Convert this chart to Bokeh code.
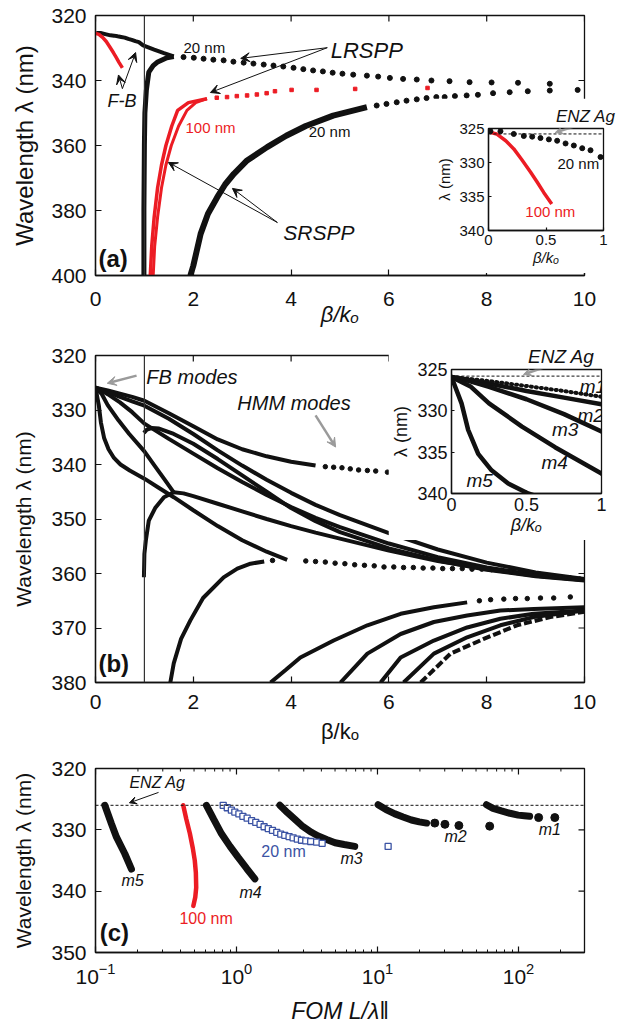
import math
from bokeh.plotting import figure
from bokeh.models import Range1d, FixedTicker, Span, Label, Arrow, VeeHead
from bokeh.layouts import column
from bokeh.embed import file_html
from bokeh.resources import INLINE

FONT = "Liberation Sans"
INK = "#111111"
RED = "#ec1c24"
BLUE = "#3b53a4"
GRAY = "#9a9a9a"

# ---------------- panel (a) data ----------------
a_xticks = [0, 2, 4, 6, 8, 10]
a_yticks = [320, 340, 360, 380, 400]
ai_xticks = [0, 0.5, 1]
ai_yticks = [325, 330, 335, 340]

fb20_x = [0.017, 0.104, 0.22, 0.307, 0.38, 0.452, 0.525, 0.597, 0.67, 0.742, 0.815, 0.887, 0.974, 1.2, 1.4, 1.6]
fb20_l = [325.4, 325.4, 325.8, 326.1, 326.2, 326.4, 326.6, 326.8, 327.2, 327.5, 327.9, 328.2, 329.2, 330.5, 331.6, 332.6]
redfb_x = [0.0, 0.07, 0.15, 0.22, 0.29, 0.365, 0.42, 0.48, 0.55]
redfb_l = [325.5, 325.8, 326.8, 328.0, 329.6, 331.4, 332.8, 334.4, 336.1]
ll20_x = [0.99, 0.99, 1.0, 1.01, 1.04, 1.09, 1.18, 1.26, 1.46, 1.6]
ll20_l = [400, 380, 360, 350, 343, 337.4, 335.4, 334.4, 333.0, 332.6]
lr20_x = [1.80, 2.01, 2.21, 2.41, 2.62, 2.82, 3.03, 3.23, 3.44, 3.64, 3.84, 4.05, 4.25, 4.45, 4.65,
          4.85, 5.05, 5.27, 5.55, 5.78, 6.02, 6.29, 6.57, 6.87, 7.24, 7.65, 8.1, 8.64, 9.29]
lr20_l = [332.8, 333.0, 333.3, 333.6, 333.8, 334.2, 334.5, 334.8, 335.1, 335.4, 335.7, 336.1, 336.5, 336.9, 337.2,
          337.6, 337.9, 338.2, 338.5, 338.8, 339.2, 339.5, 339.7, 340.0, 340.2, 340.5, 340.6, 340.7, 341.0]
sr20_x = [1.94, 2.0, 2.15, 2.3, 2.49, 2.65, 2.83, 3.1, 3.51, 3.9, 4.3, 4.86, 5.55]
sr20_l = [400, 397, 387.2, 381, 375.9, 372, 368.7, 364.6, 360.5, 357, 354, 350.8, 348.2]
sr20d_x = [5.75, 5.95, 6.16, 6.36, 6.57, 6.77, 6.97, 7.14, 7.35, 7.59, 7.82, 8.13, 8.47, 8.84, 9.29, 9.86]
sr20d_l = [347.7, 347.2, 346.7, 346.2, 345.8, 345.4, 345.1, 345.1, 344.8, 344.6, 344.4, 343.9, 343.6, 343.3, 343.1, 342.9]
red1_x = [1.12, 1.15, 1.2, 1.27, 1.35, 1.44, 1.56, 1.68, 1.9, 2.28]
red1_l = [400, 391, 382, 373, 366, 360, 354, 349.2, 346.8, 345.6]
red2_x = [1.18, 1.21, 1.27, 1.35, 1.44, 1.55, 1.7, 1.87, 2.05, 2.28]
red2_l = [400, 391, 382, 373, 366, 360, 354, 349.2, 346.8, 345.6]
redd_x = [2.48, 2.69, 2.89, 3.1, 3.3, 3.5, 3.67, 4.01, 4.52, 5.31, 6.79]
redd_l = [345.3, 345.1, 344.8, 344.6, 344.3, 343.9, 343.3, 342.9, 342.9, 342.6, 342.3]

# ---------------- panel (b) data ----------------
b_xticks = [0, 2, 4, 6, 8, 10]
b_yticks = [320, 330, 340, 350, 360, 370, 380]
bi_xticks = [0, 0.5, 1]
bi_yticks = [325, 330, 335, 340]

m1_x = [0, 0.25, 0.5, 0.75, 1.0, 1.5, 2, 2.5, 3, 3.5, 4, 4.5]
m1_l = [325.9, 326.4, 327.0, 327.6, 328.3, 330.6, 333.0, 335.4, 337.2, 338.5, 339.5, 340.2]
m1d_x = [4.7, 4.87, 5.04, 5.21, 5.38, 5.56, 5.73, 5.97]
m1d_l = [340.4, 340.5, 340.6, 340.8, 341.0, 341.1, 341.2, 341.4]
m2_x = [0, 0.25, 0.5, 0.75, 1, 1.5, 2, 2.5, 3, 3.5, 4, 4.5, 5, 6, 7, 8, 9, 10]
m2_l = [325.9, 326.7, 327.6, 328.4, 329.2, 331.6, 334.4, 337.4, 340.2, 342.8, 345.2, 347.4, 349.3, 352.6, 355.6, 358.0, 359.8, 361.0]
m3_x = [0, 0.12, 0.25, 0.5, 0.75, 1, 1.5, 2, 2.5, 3, 3.5, 4, 4.5, 5, 6, 7, 8, 9, 10]
m3_l = [325.9, 326.4, 327.1, 328.6, 330.4, 332.5, 335.3, 338.0, 340.7, 343.2, 345.6, 347.8, 349.8, 351.5, 354.5, 357.0, 358.9, 360.3, 361.2]
m4_x = [0, 0.13, 0.25, 0.47, 0.69, 1.0, 1.2, 1.4, 1.6]
m4_l = [325.9, 327.1, 329.1, 331.9, 334.4, 337.6, 340.1, 342.6, 345.1]
m5_x = [0, 0.067, 0.111, 0.178, 0.267, 0.378, 0.511, 0.7, 1.0, 1.3, 1.6, 2.0, 2.5, 3.0, 3.5, 3.92]
m5_l = [325.9, 329.1, 332.3, 335.2, 337.2, 338.8, 340.0, 341.1, 342.6, 344.3, 346.0, 348.4, 351.3, 353.9, 356.0, 357.5]
hook_x = [0.99, 1.05, 1.15, 1.3, 1.6, 2.0, 2.5, 3.0, 3.5, 4.0, 4.5, 5, 6, 7, 8, 9, 10]
hook_l = [334.2, 333.6, 333.3, 333.4, 334.4, 336.2, 339.0, 342.0, 345.0, 348.0, 350.4, 352.4, 355.4, 357.6, 359.3, 360.5, 361.3]
junc_x = [1.6, 1.8, 2.0, 2.5, 3.0, 3.5, 4.0, 4.5, 5, 6, 7, 8, 9, 10]
junc_l = [345.1, 345.3, 345.8, 347.2, 348.6, 350.0, 351.3, 352.5, 353.6, 355.8, 357.7, 359.2, 360.4, 361.2]
rise1_x = [0.99, 1.0, 1.03, 1.09, 1.22, 1.4, 1.6]
rise1_l = [360.7, 356.4, 353.9, 350.3, 348, 346, 345.1]
rise2_x = [1.53, 1.6, 1.75, 1.94, 2.2, 2.62, 2.9, 3.17, 3.45]
rise2_l = [380, 376.5, 372, 368.6, 364.5, 360.7, 359.1, 358.2, 357.8]
row_x = [3.62, 4.3, 4.5, 4.7, 4.9, 5.1, 5.3, 5.5, 5.7, 5.9, 6.1, 6.3, 6.5, 6.7, 6.9, 7.1, 7.3, 7.5, 7.7,
         7.9, 8.1, 8.3, 8.5, 8.7, 8.9, 9.1, 9.3, 9.5, 9.7, 9.9]
row_l = [357.6, 357.7, 357.8, 357.9, 358.1, 358.2, 358.4, 358.5, 358.6, 358.8, 358.8, 358.9, 358.9, 359.0, 359.0,
         359.1, 359.1, 359.1, 359.2, 359.2, 359.3, 359.4, 359.6, 359.8, 360.0, 360.2, 360.4, 360.6, 360.8, 361.0]
j_x = [3.58, 3.9, 4.19, 4.87, 5.56, 6.24, 6.92, 7.6]
j_l = [380, 377.6, 375.4, 372.3, 369.5, 367.4, 366.2, 365.3]
jd_x = [7.85, 8.08, 8.35, 8.59, 8.83, 9.1, 9.37, 9.71]
jd_l = [365.0, 364.8, 364.7, 364.6, 364.6, 364.5, 364.5, 364.3]
k_x = [5.01, 5.56, 6.24, 6.92, 7.6, 8.28, 8.96, 10]
k_l = [380, 374.7, 371.1, 368.9, 367.7, 366.8, 366.5, 366.2]
l_x = [5.83, 6.24, 6.92, 7.6, 8.28, 8.96, 10]
l_l = [380, 375.4, 372.3, 369.9, 368.3, 367.4, 366.8]
mm_x = [6.3, 6.92, 7.6, 8.28, 8.96, 10]
mm_l = [380, 374.7, 371.7, 369.5, 368, 366.8]
n_x = [6.65, 7.26, 7.94, 8.62, 9.3, 10]
n_l = [380, 374.7, 372, 369.5, 368, 367]

# ---------------- panel (c) data ----------------
c_xmajor = [0.1, 1, 10, 100]
c_yticks = [320, 330, 340, 350]
c5_x = [0.1164, 0.1297, 0.1409, 0.1614, 0.1799]
c5_l = [326.0, 329.0, 331.2, 333.9, 336.4]
cr_x = [0.419, 0.44, 0.467, 0.49, 0.506, 0.515, 0.518, 0.51, 0.494]
cr_l = [326.0, 328.2, 330.6, 333.0, 335.0, 337.0, 339.4, 341.0, 342.4]
c4_x = [0.612, 0.69, 0.783, 0.9, 1.028, 1.18, 1.35]
c4_l = [326.0, 328.3, 330.65, 332.7, 334.5, 336.3, 338.0]
c3_x = [2.03, 2.3, 2.6, 2.9, 3.4, 3.8, 4.4, 5.0, 5.8, 6.9]
c3_l = [326.0, 327.2, 328.3, 329.3, 330.4, 331.0, 331.6, 332.1, 332.4, 332.7]
c2_x = [10.1, 11.5, 13.3, 15.2, 17.4, 19.8, 22.3]
c2_l = [325.9, 326.7, 327.4, 327.9, 328.4, 328.7, 328.9]
c2d_x = [25.5, 30.1, 37.8]
c2d_l = [328.9, 329.1, 329.3]
c1_x = [59.3, 66, 75.7, 87, 99.5, 110, 120]
c1_l = [325.9, 326.5, 326.9, 327.3, 327.6, 327.7, 327.8]
c1d_x = [139, 181, 62.5]
c1d_l = [328.0, 328.0, 329.4]
cb_x = [0.805, 0.86, 0.92, 0.973, 1.04, 1.11, 1.19, 1.28, 1.37, 1.47, 1.57, 1.68, 1.8, 1.93, 2.06,
        2.2, 2.36, 2.52, 2.7, 2.89, 3.1, 3.36, 3.7, 4.05, 11.9]
cb_l = [326.0, 326.4, 326.8, 327.1, 327.4, 327.8, 328.1, 328.5, 328.8, 329.1, 329.5, 329.8, 330.1, 330.4, 330.7,
        330.9, 331.1, 331.3, 331.5, 331.7, 331.8, 331.9, 332.0, 332.2, 332.7]
ENZ = 325.8


def style(ax, fs="21px", standoff=8, tick=6):
    ax.major_label_text_font = FONT
    ax.major_label_text_font_size = fs
    ax.major_label_text_color = INK
    ax.major_label_standoff = standoff
    ax.axis_line_color = INK
    ax.axis_line_width = 1.3
    ax.major_tick_line_color = INK
    ax.major_tick_line_width = 1.2
    ax.major_tick_in = tick
    ax.major_tick_out = 0
    ax.minor_tick_line_color = None
    ax.axis_label_text_font = FONT
    ax.axis_label_text_color = INK


def make_fig(xr, yr, fw, fh, l, r, t, b, **kw):
    p = figure(x_range=xr, y_range=yr, frame_width=fw, frame_height=fh,
               min_border_left=l, min_border_right=r, min_border_top=t, min_border_bottom=b,
               toolbar_location=None, output_backend="svg", **kw)
    p.grid.visible = False
    p.outline_line_color = INK
    p.outline_line_width = 1.3
    p.background_fill_color = "white"
    p.border_fill_color = "white"
    return p


def top_title(p, text, size, offset, standoff):
    p.title.text = text
    p.title.text_font = FONT
    p.title.text_font_size = size
    p.title.text_font_style = "italic"
    p.title.text_color = INK
    p.title.align = "right"
    p.title.offset = offset
    p.title.standoff = standoff


def box_ticks(p, xticks, yticks, ytop, xright, size=12):
    # inward tick marks on the top and right edges (half of each dash is clipped by the frame)
    p.scatter(x=xticks, y=[ytop] * len(xticks), marker="dash", angle=math.pi / 2, size=size,
              line_color=INK, line_width=1.2)
    p.scatter(x=[xright] * len(yticks), y=yticks, marker="dash", size=size, line_color=INK, line_width=1.2)


def lab(p, x, y, text, size, color=INK, fstyle="normal"):
    p.add_layout(Label(x=x, y=y, text=text, text_font=FONT, text_font_size=size, text_color=color,
                       text_font_style=fstyle, text_align="left", text_baseline="middle"))


def arrow(p, x0, y0, x1, y1, color=INK, width=1.0, head=9):
    p.add_layout(Arrow(end=VeeHead(size=head, fill_color=color, line_color=color, line_width=1),
                       x_start=x0, y_start=y0, x_end=x1, y_end=y1, line_color=color, line_width=width))


# ================= panel (a) =================
pa = make_fig(Range1d(0, 10), Range1d(400, 320), 489, 260, 95, 34, 15, 63)
pa.xaxis.ticker = FixedTicker(ticks=a_xticks)
pa.yaxis.ticker = FixedTicker(ticks=a_yticks)
style(pa.xaxis[0], standoff=16)
style(pa.yaxis[0], standoff=9)
pa.xaxis.axis_label = "β/kₒ"
pa.xaxis.axis_label_text_font_style = "italic"
pa.xaxis.axis_label_text_font_size = "22px"
pa.xaxis.axis_label_standoff = -7
pa.yaxis.axis_label = "Wavelength λ (nm)"
pa.yaxis.axis_label_text_font_style = "normal"
pa.yaxis.axis_label_text_font_size = "24px"
pa.yaxis.axis_label_standoff = 10
box_ticks(pa, a_xticks, a_yticks, 320, 10)
pa.add_layout(Span(location=1, dimension="height", line_color="#333333", line_width=1.2))

pa.line(fb20_x, fb20_l, line_width=4, color=INK)
pa.line(redfb_x, redfb_l, line_width=3.5, color=RED)
pa.line(ll20_x, ll20_l, line_width=5, color=INK)
pa.scatter(lr20_x, lr20_l, size=5, color=INK)
pa.line(red1_x, red1_l, line_width=3.5, color=RED)
pa.line(red2_x, red2_l, line_width=3, color=RED)
pa.scatter(redd_x, redd_l, marker="square", size=3.5, color=RED)
pa.line(sr20_x, sr20_l, line_width=6, color=INK)
pa.scatter(sr20d_x, sr20d_l, size=5, color=INK)

lab(pa, 1.80, 329.85, "20 nm", "15px")
lab(pa, 4.81, 330.8, "LRSPP", "22px", fstyle="italic")
lab(pa, 0.245, 346.2, "F-B", "18px", fstyle="italic")
lab(pa, 1.84, 354.5, "100 nm", "15px", color=RED)
lab(pa, 4.36, 355.7, "20 nm", "15px")
lab(pa, 3.84, 386.8, "SRSPP", "21px", fstyle="italic")
lab(pa, 0.06, 394.8, "(a)", "24px", fstyle="bold")
arrow(pa, 4.74, 329.9, 2.97, 333.2)
arrow(pa, 4.74, 329.9, 2.35, 343.7)
arrow(pa, 0.55, 342.5, 0.82, 331.4)
arrow(pa, 0.55, 342.5, 0.47, 338.3)
arrow(pa, 3.72, 383.7, 1.49, 365.2)
arrow(pa, 3.72, 383.7, 2.80, 373.2)

# inset (a)
ia = make_fig(Range1d(0, 1), Range1d(340, 325), 115, 102, 58, 13, 30, 43,
              styles={"position": "absolute", "left": "430px", "top": "98px"})
ia.xaxis.ticker = FixedTicker(ticks=ai_xticks)
ia.yaxis.ticker = FixedTicker(ticks=ai_yticks)
style(ia.xaxis[0], fs="15px", standoff=4, tick=3)
style(ia.yaxis[0], fs="15px", standoff=4, tick=3)
ia.xaxis.axis_label = "β/kₒ"
ia.xaxis.axis_label_text_font_style = "italic"
ia.xaxis.axis_label_text_font_size = "15px"
ia.xaxis.axis_label_standoff = 1
ia.yaxis.axis_label = "λ (nm)"
ia.yaxis.axis_label_text_font_style = "normal"
ia.yaxis.axis_label_text_font_size = "15px"
ia.yaxis.axis_label_standoff = 3
top_title(ia, "ENZ Ag", "17px", -12, 5)
ia.add_layout(Span(location=ENZ, dimension="width", line_color=INK, line_width=1, line_dash="3 2"))
ia.line(redfb_x, redfb_l, line_width=3.5, color=RED)
ia.scatter(fb20_x, fb20_l, size=5, color=INK)
arrow(ia, 0.80, 324.4, 0.58, 325.6, color=GRAY, width=2.5, head=8)
lab(ia, 0.6, 330.1, "20 nm", "15px")
lab(ia, 0.32, 337.2, "100 nm", "15px", color=RED)

# ================= panel (b) =================
pb = make_fig(Range1d(0, 10), Range1d(380, 320), 489, 327, 95, 34, 17, 68)
pb.xaxis.ticker = FixedTicker(ticks=b_xticks)
pb.yaxis.ticker = FixedTicker(ticks=b_yticks)
style(pb.xaxis[0], standoff=12)
style(pb.yaxis[0], standoff=9)
pb.xaxis.axis_label = "β/kₒ"
pb.xaxis.axis_label_text_font_style = "normal"
pb.xaxis.axis_label_text_font_size = "22px"
pb.xaxis.axis_label_standoff = 7
pb.yaxis.axis_label = "Wavelength λ (nm)"
pb.yaxis.axis_label_text_font_style = "normal"
pb.yaxis.axis_label_text_font_size = "21px"
pb.yaxis.axis_label_standoff = 13
box_ticks(pb, b_xticks, b_yticks, 320, 10)
pb.add_layout(Span(location=1, dimension="height", line_color="#333333", line_width=1.2))

for xs, ls in [(m1_x, m1_l), (m2_x, m2_l), (m3_x, m3_l), (m4_x, m4_l), (m5_x, m5_l),
               (hook_x, hook_l), (junc_x, junc_l), (rise1_x, rise1_l), (rise2_x, rise2_l),
               (j_x, j_l), (k_x, k_l), (l_x, l_l), (mm_x, mm_l)]:
    pb.line(xs, ls, line_width=4, color=INK)
pb.line(n_x, n_l, line_width=4, color=INK, line_dash="8 3")
pb.scatter(m1d_x, m1d_l, size=4.5, color=INK)
pb.scatter(row_x, row_l, size=4.5, color=INK)
pb.scatter(jd_x, jd_l, size=4.5, color=INK)

lab(pb, 1.04, 323.9, "FB modes", "20px", fstyle="italic")
arrow(pb, 0.84, 323.7, 0.24, 325.1, color=GRAY, width=2.5, head=9)
lab(pb, 2.9, 328.8, "HMM modes", "20px", fstyle="italic")
arrow(pb, 4.5, 331.0, 4.91, 336.8, color=GRAY, width=2.5, head=9)
lab(pb, 0.06, 376.5, "(b)", "24px", fstyle="bold")

# inset (b)
ib = make_fig(Range1d(0, 1), Range1d(340, 325), 150, 124, 62, 16, 29, 47,
              styles={"position": "absolute", "left": "388px", "top": "340px"})
ib.xaxis.ticker = FixedTicker(ticks=bi_xticks)
ib.yaxis.ticker = FixedTicker(ticks=bi_yticks)
style(ib.xaxis[0], fs="18px", standoff=4, tick=3)
style(ib.yaxis[0], fs="18px", standoff=4, tick=3)
ib.xaxis.axis_label = "β/kₒ"
ib.xaxis.axis_label_text_font_style = "italic"
ib.xaxis.axis_label_text_font_size = "18px"
ib.xaxis.axis_label_standoff = 1
ib.yaxis.axis_label = "λ (nm)"
ib.yaxis.axis_label_text_font_style = "normal"
ib.yaxis.axis_label_text_font_size = "18px"
ib.yaxis.axis_label_standoff = 3
top_title(ib, "ENZ Ag", "19px", 7, 5)
ib.add_layout(Span(location=ENZ, dimension="width", line_color=INK, line_width=1, line_dash="3 2"))
for xs, ls in [(m2_x, m2_l), (m3_x, m3_l), (m4_x, m4_l), (m5_x, m5_l)]:
    ib.line(xs, ls, line_width=4.5, color=INK)
ib.line(m1_x, m1_l, line_width=4, color=INK, line_dash="1 4", line_cap="round")
arrow(ib, 0.64, 324.6, 0.48, 325.6, color=GRAY, width=2.5, head=8)
lab(ib, 0.855, 327.0, "m1", "19px", fstyle="italic")
lab(ib, 0.84, 330.6, "m2", "19px", fstyle="italic")
lab(ib, 0.67, 332.3, "m3", "19px", fstyle="italic")
lab(ib, 0.60, 336.3, "m4", "19px", fstyle="italic")
lab(ib, 0.10, 338.4, "m5", "19px", fstyle="italic")

# ================= panel (c) =================
pc = make_fig(Range1d(0.1, 294), Range1d(350, 320), 489, 184, 95, 34, 18, 66, x_axis_type="log")
pc.yaxis.ticker = FixedTicker(ticks=c_yticks)
style(pc.xaxis[0], standoff=10)
style(pc.yaxis[0], standoff=9)
pc.xaxis.minor_tick_line_color = INK
pc.xaxis.minor_tick_in = 3
pc.xaxis.minor_tick_out = 0
pc.xaxis.axis_label = "FOM L/λ‖"
pc.xaxis.axis_label_text_font_style = "italic"
pc.xaxis.axis_label_text_font_size = "23px"
pc.xaxis.axis_label_standoff = 11
pc.yaxis.axis_label = "Wavelength λ (nm)"
pc.yaxis.axis_label_text_font_style = "normal"
pc.yaxis.axis_label_text_font_size = "21px"
pc.yaxis.axis_label_standoff = 13
c_xminor = [m * d for d in c_xmajor for m in range(2, 10)]
box_ticks(pc, c_xmajor, c_yticks, 320, 294)
pc.scatter(x=c_xminor, y=[320] * len(c_xminor), marker="dash", angle=math.pi / 2, size=6,
           line_color=INK, line_width=1.0)
pc.add_layout(Span(location=326, dimension="width", line_color=INK, line_width=1, line_dash="3 2"))

for xs, ls in [(c5_x, c5_l), (c4_x, c4_l), (c3_x, c3_l), (c2_x, c2_l), (c1_x, c1_l)]:
    pc.line(xs, ls, line_width=7, color=INK, line_cap="round")
pc.line(cr_x, cr_l, line_width=4.5, color=RED, line_cap="round")
pc.scatter(c2d_x, c2d_l, size=8, color=INK)
pc.scatter(c1d_x, c1d_l, size=8, color=INK)
pc.scatter(cb_x, cb_l, marker="square", size=6, line_color=BLUE, fill_color="white", line_width=1.3)

lab(pc, 0.174, 322.3, "ENZ Ag", "16px", fstyle="italic")
arrow(pc, 0.280, 323.9, 0.174, 325.6, width=1.0, head=7)
lab(pc, 0.153, 338.3, "m5", "16px", fstyle="italic")
lab(pc, 0.394, 344.5, "100 nm", "16px", color=RED)
lab(pc, 1.05, 340.2, "m4", "16px", fstyle="italic")
lab(pc, 1.50, 333.5, "20 nm", "16px", color=BLUE)
lab(pc, 5.47, 334.7, "m3", "16px", fstyle="italic")
lab(pc, 29.9, 331.1, "m2", "16px", fstyle="italic")
lab(pc, 139, 330.0, "m1", "16px", fstyle="italic")
lab(pc, 0.107, 346.8, "(c)", "24px", fstyle="bold")

root = column(pa, pb, pc)
open("out.html", "w").write(file_html([root, ia, ib], INLINE))
